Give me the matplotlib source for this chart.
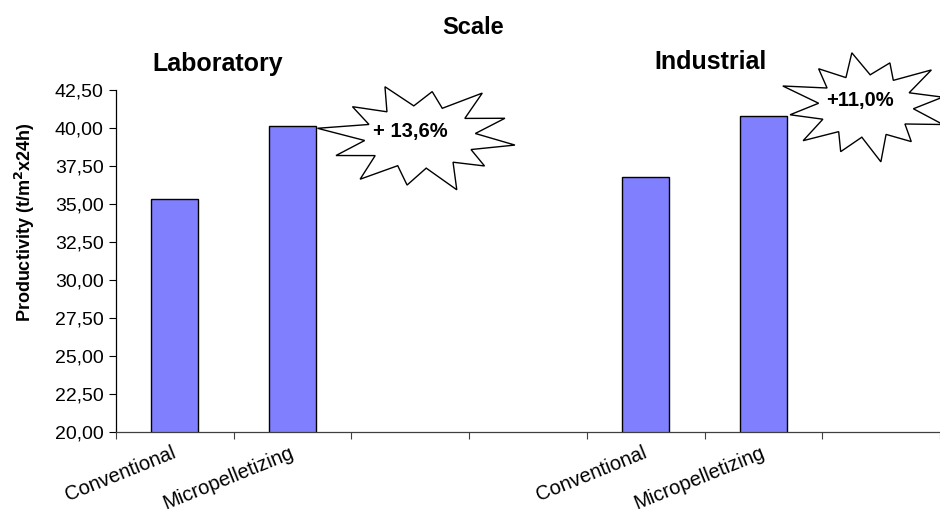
import matplotlib.pyplot as plt
import numpy as np
from matplotlib.patches import Polygon

plt.rcParams['font.family'] = ['Liberation Sans', 'DejaVu Sans']

# productivity per category slot; empty slots keep the groups apart
categories = ["Conventional", "Micropelletizing", "", "", "Conventional", "Micropelletizing", ""]
productivity = [35.3, 40.1, None, None, 36.8, 40.8, None]
gains = ["+ 13,6%", "+11,0%"]
scales = ["Laboratory", "Industrial"]

W, H = 940, 518
fig = plt.figure(figsize=(W / 100, H / 100), dpi=100)
ax = fig.add_axes([116 / W, 1 - 432 / H, 1 - 116 / W, (432 - 90) / H])

x = np.arange(len(categories))
vals = [v if v is not None else np.nan for v in productivity]
ax.bar(x, vals, width=0.4, color='#8080FF', edgecolor='black', linewidth=1.0, zorder=2)

ax.set_ylim(20, 42.5)
ax.set_xlim(-0.5, -0.5 + (W - 116) / 119)
yt = np.arange(20, 42.51, 2.5)
ax.set_yticks(yt)
ax.set_yticklabels([f"{t:.2f}".replace('.', ',') for t in yt], fontsize=14)
ax.tick_params(axis='y', direction='out', length=5, width=0.8, pad=4)

ax.set_xticks(x - 0.03)
ax.set_xticklabels(categories, rotation=22, ha='right', va='top',
                   rotation_mode='anchor', fontsize=14.5)
ax.tick_params(axis='x', which='major', length=0, pad=8)
ax.set_xticks(np.arange(-0.5, len(categories), 1), minor=True)
ax.tick_params(axis='x', which='minor', direction='out', length=5, width=0.8, color='#404040')

for s in ['top', 'right']:
    ax.spines[s].set_visible(False)
ax.spines['left'].set_linewidth(0.9)
ax.spines['bottom'].set_color('#404040')
ax.spines['bottom'].set_linewidth(0.9)

ax.set_ylabel("Productivity (t/m$^\\mathbf{2}$x24h)", fontsize=13, fontweight='bold')
ax.yaxis.set_label_coords((37 - 116) / (W - 116), (432 - 222) / (432 - 90))

fig.text(473 / W, 1 - 28 / H, "Scale", ha='center', va='center', fontsize=17, fontweight='bold')
fig.text(218 / W, 1 - 64 / H, scales[0], ha='center', va='center', fontsize=18, fontweight='bold')
fig.text(710 / W, 1 - 62 / H, scales[1], ha='center', va='center', fontsize=18, fontweight='bold')

# uneven spike lengths for the callout outlines
spike = [1.0, 0.86, 1.05, 0.9, 1.0, 0.94, 1.08, 0.9, 1.0, 0.85, 1.04, 0.95]


def starburst(cx, cy, rx, ry, rot, inner):
    n = len(spike)
    ang = np.linspace(0, 2 * np.pi, 2 * n, endpoint=False) + rot
    r = np.empty(2 * n)
    r[0::2] = spike
    r[1::2] = inner
    px = cx + rx * r * np.cos(ang)
    py = cy + ry * r * np.sin(ang)
    return np.column_stack([px / W, 1 - py / H])


for (cx, cy, rx, ry, rot, tx, ty), txt in zip([(420, 137, 96, 54, 0.15, 410, 132),
                                              (866, 106, 82, 54, 0.35, 860, 100)], gains):
    star = Polygon(starburst(cx, cy, rx, ry, rot, 0.58), closed=True,
                   facecolor='white', edgecolor='black', linewidth=1.0,
                   transform=fig.transFigure, zorder=5)
    fig.patches.append(star)
    fig.text(tx / W, 1 - ty / H, txt, ha='center', va='center',
             fontsize=14.5, fontweight='bold', zorder=6)

fig.savefig("out.png", dpi=100)
